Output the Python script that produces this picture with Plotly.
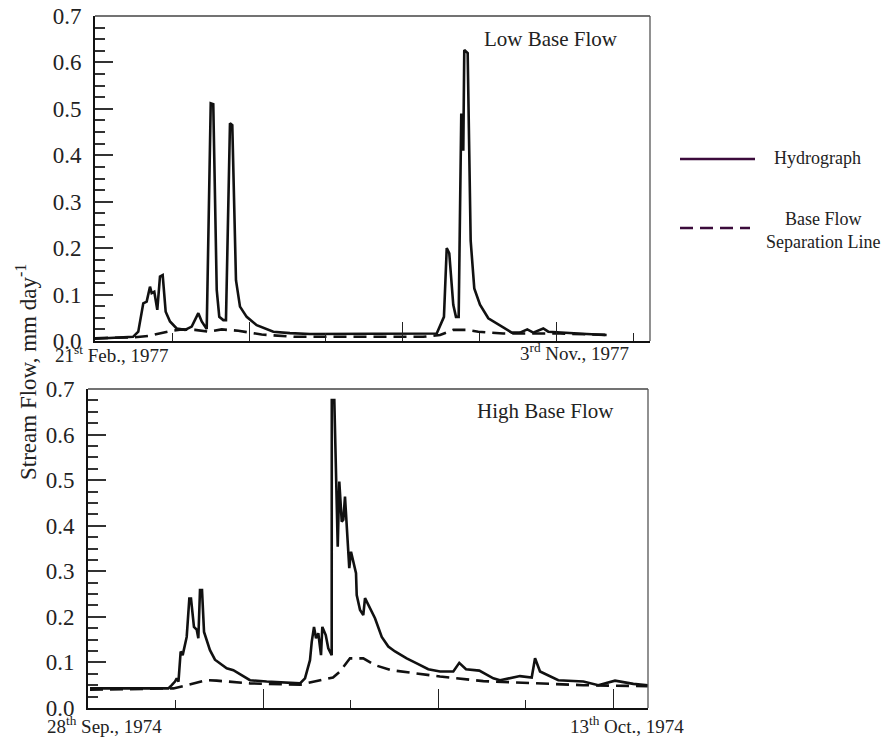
import plotly.graph_objects as go

# ---------------- data (time in arbitrary steps, flow in mm/day) ----------------
low_t = [0, 4.94, 5.62, 6.27, 6.71, 7.14, 7.36, 7.70, 8.09, 8.44, 8.79, 9.18, 9.74, 10.61,
         11.69, 12.56, 13.42, 13.86, 14.51, 15.03, 15.36, 15.81, 16.14, 16.66, 17.01, 17.53,
         17.83, 18.31, 18.83, 19.70, 21.00, 23.16, 25.32, 27.92, 44.38, 44.81, 45.32, 45.68,
         46.01, 46.53, 46.88, 47.23, 47.57, 47.83, 47.96, 48.40, 48.79, 49.26, 50.00, 51.08,
         52.60, 54.12, 55.19, 56.14, 56.92, 58.22, 58.87, 60.39, 63.86, 66.45]
low_q = [0.005, 0.009, 0.020, 0.081, 0.085, 0.117, 0.103, 0.106, 0.067, 0.139, 0.142, 0.063,
         0.042, 0.027, 0.024, 0.031, 0.060, 0.042, 0.026, 0.512, 0.510, 0.110, 0.052, 0.045,
         0.045, 0.469, 0.465, 0.131, 0.074, 0.052, 0.034, 0.020, 0.017, 0.015, 0.016, 0.031,
         0.052, 0.200, 0.189, 0.078, 0.052, 0.052, 0.490, 0.410, 0.627, 0.620, 0.216, 0.113,
         0.078, 0.049, 0.034, 0.018, 0.018, 0.025, 0.018, 0.027, 0.020, 0.018, 0.015, 0.013]

low_base_t = [0, 5.2, 6.97, 9.97, 11.26, 12.99, 14.71, 16.45, 18.61, 21.64, 25.97, 42.6,
              44.81, 46.53, 48.27, 49.78, 53.03, 60.4, 66.45]
low_base_q = [0.006, 0.008, 0.011, 0.022, 0.025, 0.024, 0.020, 0.025, 0.022, 0.014, 0.009,
              0.009, 0.013, 0.024, 0.024, 0.020, 0.016, 0.016, 0.013]

high_t = [0.23, 9.18, 9.57, 9.94, 10.14, 10.34, 10.59, 10.82, 11.28, 11.58, 11.77, 12.11,
          12.42, 12.61, 12.80, 13.03, 13.26, 13.94, 14.51, 15.85, 16.61, 18.51, 20.42, 24.23,
          24.80, 25.37, 25.57, 25.83, 26.06, 26.32, 26.63, 26.78, 27.17, 27.46, 27.85, 27.86,
          28.15, 28.54, 28.72, 29.00, 29.18, 29.37, 29.86, 30.06, 30.63, 30.71, 31.09, 31.46,
          31.66, 32.03, 32.80, 33.57, 34.32, 35.09, 36.42, 37.57, 38.89, 40.23, 41.75, 42.43,
          43.20, 44.72, 46.32, 47.09, 49.37, 50.71, 51.09, 51.66, 53.75, 56.61, 58.32, 60.23,
          62.32, 63.97]
high_q = [0.043, 0.043, 0.050, 0.058, 0.065, 0.058, 0.124, 0.116, 0.156, 0.240, 0.240, 0.178,
          0.172, 0.153, 0.259, 0.259, 0.167, 0.127, 0.106, 0.087, 0.083, 0.061, 0.058, 0.054,
          0.065, 0.105, 0.145, 0.178, 0.153, 0.164, 0.116, 0.178, 0.160, 0.131, 0.116, 0.676,
          0.676, 0.354, 0.497, 0.409, 0.413, 0.464, 0.307, 0.343, 0.296, 0.248, 0.215, 0.204,
          0.241, 0.226, 0.197, 0.156, 0.135, 0.124, 0.109, 0.098, 0.085, 0.080, 0.080, 0.099,
          0.085, 0.082, 0.065, 0.061, 0.070, 0.067, 0.109, 0.080, 0.061, 0.058, 0.050, 0.060,
          0.053, 0.050]

high_base_t = [0.23, 9.75, 11.28, 13.57, 14.71, 18.51, 24.23, 28.0, 28.8, 29.94, 31.46,
               32.8, 34.7, 37.6, 40.23, 45.18, 50.9, 56.6, 63.97]
high_base_q = [0.040, 0.043, 0.050, 0.061, 0.060, 0.054, 0.051, 0.067, 0.080, 0.109, 0.109,
               0.094, 0.083, 0.076, 0.069, 0.059, 0.054, 0.050, 0.048]

y_ticks = [0.0, 0.1, 0.2, 0.3, 0.4, 0.5, 0.6, 0.7]
y_ticktext = ["0.0", "0.1", "0.2", "0.3", "0.4", "0.5", "0.6", "0.7"]

FONT = "Liberation Serif, Times New Roman, serif"
LEG = "#3b0b3b"

fig = go.Figure()
fig.add_trace(go.Scatter(x=low_t, y=low_q, mode="lines", line=dict(color="#111", width=2.6),
                         xaxis="x", yaxis="y", showlegend=False))
fig.add_trace(go.Scatter(x=low_base_t, y=low_base_q, mode="lines",
                         line=dict(color="#111", width=2.6, dash="13px,7px"),
                         xaxis="x", yaxis="y", showlegend=False))
fig.add_trace(go.Scatter(x=high_t, y=high_q, mode="lines", line=dict(color="#111", width=2.6),
                         xaxis="x2", yaxis="y2", showlegend=False))
fig.add_trace(go.Scatter(x=high_base_t, y=high_base_q, mode="lines",
                         line=dict(color="#111", width=2.6, dash="13px,7px"),
                         xaxis="x2", yaxis="y2", showlegend=False))

W, H = 885, 738


def px(x):
    return x / W


def py(y):
    return 1 - y / H


xcommon = dict(showgrid=False, zeroline=False, showline=True, linecolor="#111", linewidth=2,
               ticks="inside", ticklen=19, tickwidth=1.2, tickcolor="#222", dtick=20, tick0=0,
               showticklabels=False, fixedrange=True, automargin=False,
               minor=dict(ticks="inside", ticklen=8, tickwidth=1.2, tickcolor="#222", dtick=10))
ycommon = dict(showgrid=False, zeroline=False, showline=True, linecolor="#111", linewidth=2,
               range=[0, 0.7], tickvals=y_ticks, ticktext=y_ticktext, automargin=False,
               ticks="inside", ticklen=18, tickwidth=1.8, tickcolor="#333", fixedrange=True,
               tickfont=dict(family=FONT, size=23, color="#222"), ticklabelstandoff=7,
               minor=dict(ticks="inside", ticklen=10, tickwidth=1.8, tickcolor="#333",
                          dtick=0.025, tick0=0))

fig.update_layout(
    width=W, height=H, margin=dict(l=0, r=0, t=0, b=0, pad=0, autoexpand=False),
    paper_bgcolor="white", plot_bgcolor="white",
    font=dict(family=FONT, color="#222"), showlegend=False,
    xaxis=dict(domain=[px(95), px(650)], range=[0, 72.08], anchor="y", **xcommon),
    yaxis=dict(domain=[py(341), py(16)], anchor="x", **ycommon),
    xaxis2=dict(domain=[px(88), px(648)], range=[0, 64.0], anchor="y2", **xcommon),
    yaxis2=dict(domain=[py(708), py(389)], anchor="x2", **ycommon),
)

# thin top/right frame lines
for xr, yr in (("x domain", "y domain"), ("x2 domain", "y2 domain")):
    fig.add_shape(type="line", xref=xr, yref=yr, x0=0, x1=1, y0=1, y1=1,
                  line=dict(color="#444", width=1.3))
    fig.add_shape(type="line", xref=xr, yref=yr, x0=1, x1=1, y0=0, y1=1,
                  line=dict(color="#555", width=1.3))

ann = []
ann.append(dict(text="Low Base Flow", x=551, y=39, size=21))
ann.append(dict(text="High Base Flow", x=545, y=411, size=21))
for a in ann:
    fig.add_annotation(x=px(a["x"]), y=py(a["y"]), xref="paper", yref="paper",
                       text=a["text"], showarrow=False, xanchor="center", yanchor="middle",
                       font=dict(family=FONT, size=a["size"], color="#222"))

# date labels
dates = [("21<sup>st</sup> Feb., 1977", 53, 354), ("3<sup>rd</sup> Nov., 1977", 518, 352),
         ("28<sup>th</sup> Sep., 1974", 45, 725), ("13<sup>th</sup> Oct., 1974", 568, 725)]
for t, x, y in dates:
    fig.add_annotation(x=px(x), y=py(y), xref="paper", yref="paper", text=t, showarrow=False,
                       xanchor="left", yanchor="middle",
                       font=dict(family=FONT, size=19, color="#222"))

# y-axis title
fig.add_annotation(x=px(26), y=py(372), xref="paper", yref="paper",
                   text="Stream Flow, mm day<sup>-1</sup>", textangle=-90, showarrow=False,
                   xanchor="center", yanchor="middle",
                   font=dict(family=FONT, size=23, color="#222"))

# legend (drawn manually)
fig.add_shape(type="line", xref="paper", yref="paper", x0=px(680), x1=px(755), y0=py(159),
              y1=py(159), line=dict(color=LEG, width=2.6))
fig.add_shape(type="line", xref="paper", yref="paper", x0=px(680), x1=px(750), y0=py(228),
              y1=py(228), line=dict(color=LEG, width=2.6, dash="13px,7px"))
fig.add_annotation(x=px(817), y=py(158), xref="paper", yref="paper", text="Hydrograph",
                   showarrow=False, xanchor="center", yanchor="middle",
                   font=dict(family=FONT, size=18, color="#222"))
fig.add_annotation(x=px(823), y=py(230), xref="paper", yref="paper",
                   text="Base Flow<br>Separation Line", showarrow=False,
                   xanchor="center", yanchor="middle",
                   font=dict(family=FONT, size=18, color="#222"))

fig.write_html("out.html")
